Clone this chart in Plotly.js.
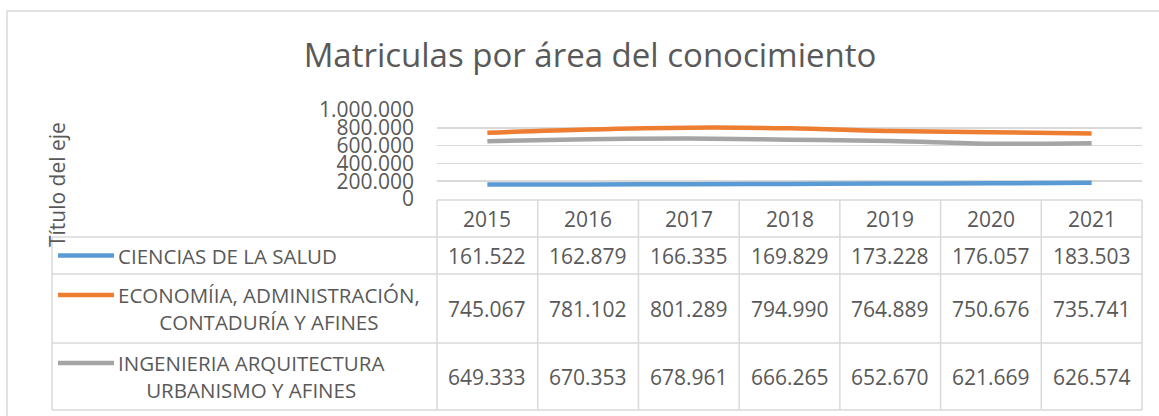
<!DOCTYPE html>
<html><head><meta charset="utf-8">
<script src="https://cdn.plot.ly/plotly-3.0.1.min.js"></script>
<style>html,body{margin:0;padding:0;background:#fff}#chart{width:1159px;height:416px}</style>
</head><body><div id="chart"></div>
<script>
// ---- data ----
const years = ['2015', '2016', '2017', '2018', '2019', '2020', '2021'];
const seriesNames = ['CIENCIAS DE LA SALUD', 'ECONOMÍIA, ADMINISTRACIÓN,<br>CONTADURÍA Y AFINES', 'INGENIERIA ARQUITECTURA<br>URBANISMO Y AFINES'];
const salud = [161522, 162879, 166335, 169829, 173228, 176057, 183503];
const economia = [745067, 781102, 801289, 794990, 764889, 750676, 735741];
const ingenieria = [649333, 670353, 678961, 666265, 652670, 621669, 626574];
const yTickVals = [0, 200000, 400000, 600000, 800000, 1000000];
const chartTitle = 'Matriculas por área del conocimiento';
const yTitle = 'Título del eje';

// ---- styling / layout ----
const series = [salud, economia, ingenieria];
const colors = ['#5B9BD5', '#ED7D31', '#A5A5A5'];
const txt = '#595959', grid = '#D9D9D9', FONT = 'Open Sans';
const W = 1159, H = 416, L = 437, R = 1142, T = 110, B = 199;
const px = x => (x - L) / (R - L);
const py = y => (B - y) / (B - T);
const fmt = v => v.toString().replace(/\B(?=(\d{3})+(?!\d))/g, '.');

const headerRow = [200, 237];
const rows = [[237, 274], [274, 343], [343, 410]];
const keyOffset = [0, -13.5, -13.5];

const traces = series.map((vals, i) => ({
  type: 'scatter', mode: 'lines', x: years, y: vals,
  name: seriesNames[i].replace('<br>', ' '),
  line: {color: colors[i], width: 4.5, shape: 'spline', smoothing: 1},
  hoverinfo: 'skip'
}));

const shapes = [];
const annotations = [];
const lineStyle = {color: grid, width: 1.5};
// horizontal table lines
shapes.push({type: 'line', xref: 'paper', yref: 'paper', x0: 0, x1: 1, y0: py(headerRow[0]), y1: py(headerRow[0]), line: lineStyle});
rows.forEach(r => shapes.push({type: 'line', xref: 'paper', yref: 'paper', x0: px(52), x1: 1, y0: py(r[1]), y1: py(r[1]), line: lineStyle}));
shapes.push({type: 'line', xref: 'paper', yref: 'paper', x0: px(52), x1: 1, y0: py(rows[0][0]), y1: py(rows[0][0]), line: lineStyle});
// vertical table lines
const tTop = py(headerRow[0]), tBot = py(rows[2][1]);
shapes.push({type: 'line', xref: 'paper', yref: 'paper', x0: 0, x1: 0, y0: tTop, y1: tBot, line: lineStyle});
shapes.push({type: 'line', xref: 'paper', yref: 'paper', x0: 1, x1: 1, y0: tTop, y1: tBot, line: lineStyle});
for (let i = 0; i < years.length - 1; i++) {
  shapes.push({type: 'line', xref: 'x', yref: 'paper', x0: i + 0.5, x1: i + 0.5, y0: tTop, y1: tBot, line: lineStyle});
}
shapes.push({type: 'line', xref: 'paper', yref: 'paper', x0: px(52), x1: px(52), y0: py(rows[0][0]), y1: tBot, line: lineStyle});
// outer chart border
shapes.push({type: 'rect', xref: 'paper', yref: 'paper', x0: px(7), x1: px(1163), y0: py(11), y1: py(420), line: {color: grid, width: 1.5}, fillcolor: 'rgba(0,0,0,0)'});

// header (years) — placed at each category index on the x axis
years.forEach((yr, j) => annotations.push({xref: 'x', yref: 'paper', x: j, y: py((headerRow[0] + headerRow[1]) / 2),
  text: yr, showarrow: false, xanchor: 'center', yanchor: 'middle', font: {family: FONT, size: 21, color: txt}}));
// values + labels + legend keys
series.forEach((vals, i) => {
  const c = (rows[i][0] + rows[i][1]) / 2;
  vals.forEach((v, j) => annotations.push({xref: 'x', yref: 'paper', x: j, y: py(c),
    text: fmt(v), showarrow: false, xanchor: 'center', yanchor: 'middle', font: {family: FONT, size: 21, color: txt}}));
  annotations.push({xref: 'paper', yref: 'paper', x: px(116), y: py(c), text: seriesNames[i], showarrow: false,
    xanchor: 'left', yanchor: 'middle', align: 'center', font: {family: FONT, size: 20.5, color: txt}});
  const ky = py(c + keyOffset[i]);
  shapes.push({type: 'line', xref: 'paper', yref: 'paper', x0: px(58), x1: px(114), y0: ky, y1: ky, line: {color: colors[i], width: 4.5}});
});
// y-axis title
annotations.push({xref: 'paper', yref: 'paper', x: px(57), y: py(185), text: yTitle, textangle: -90, showarrow: false,
  xanchor: 'center', yanchor: 'middle', font: {family: FONT, size: 21, color: txt}});

const layout = {
  width: W, height: H,
  margin: {l: L, r: W - R, t: T, b: H - B, pad: 0},
  paper_bgcolor: '#fff', plot_bgcolor: '#fff',
  separators: ',.',
  showlegend: false,
  title: {text: chartTitle, xref: 'container', yref: 'container', x: 590 / W, y: 1 - 55 / H,
    xanchor: 'center', yanchor: 'middle', font: {family: FONT, size: 33, color: txt}},
  xaxis: {type: 'category', range: [-0.5, years.length - 0.5], showgrid: false, showticklabels: false,
    zeroline: false, showline: false, ticks: '', fixedrange: true},
  yaxis: {range: [0, 1000000], tickvals: yTickVals, tickformat: ',d', showgrid: true, gridcolor: grid, gridwidth: 1.5,
    zeroline: false, showline: false, ticks: '', ticklabelstandoff: 22,
    tickfont: {family: FONT, size: 21, color: txt}, fixedrange: true},
  shapes: shapes, annotations: annotations,
  font: {family: FONT, color: txt}
};
Plotly.newPlot('chart', traces, layout, {displayModeBar: false, staticPlot: true});
</script></body></html>
